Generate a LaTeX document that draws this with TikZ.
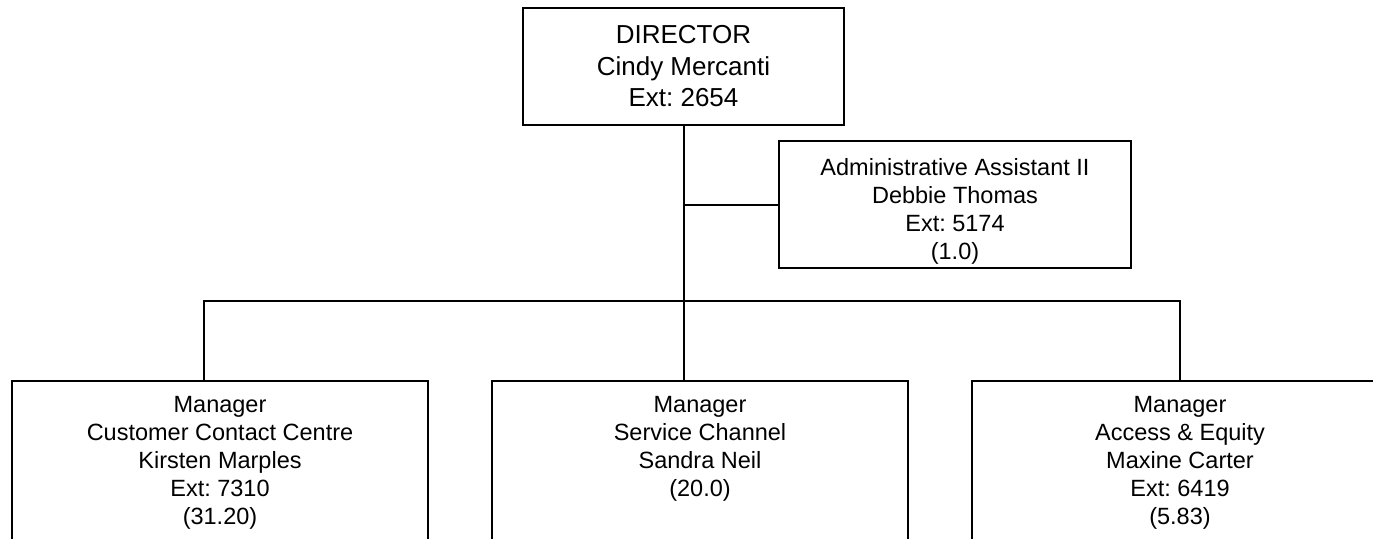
\documentclass[tikz,border=0pt]{standalone}
\usepackage{fontspec}
\setmainfont{Liberation Sans}
\usepackage{tikz}
\frenchspacing

\begin{document}
\begin{tikzpicture}[x=1pt,y=-1pt,line width=2pt,
    box/.style={draw,rectangle,align=center,inner sep=0pt,outer sep=0pt},
    dirbox/.style={box,minimum width=321pt,minimum height=117pt,
      font=\fontsize{26}{31.5}\selectfont},
    asstbox/.style={box,minimum width=352pt,minimum height=127pt,
      font=\fontsize{23.5}{28}\selectfont},
    mgrbox/.style={box,anchor=north,minimum width=416pt,minimum height=168pt,
      font=\fontsize{23.5}{28}\selectfont}]
      \useasboundingbox (0,0) rectangle (1373,538);
      \clip (0,0) rectangle (1373,538);
      % top of the chart
      \node[dirbox] (dir) at (683.5,66.5) {DIRECTOR\\Cindy Mercanti\\Ext: 2654};
      \node[asstbox] (asst) at (955,204.5)
      {\rule{0pt}{31pt}Administrative Assistant II\\Debbie Thomas\\Ext: 5174\\(1.0)};
      % managers
      \node[mgrbox] (ccc) at (220,381)
      {Manager\\Customer Contact Centre\\Kirsten Marples\\Ext: 7310\\(31.20)\strut};
      \node[mgrbox] (svc) at (700,381)
      {Manager\\Service Channel\\Sandra Neil\\(20.0)\\\strut};
      \node[mgrbox] (acc) at (1180,381)
      {Manager\\Access \& Equity\\Maxine Carter\\Ext: 6419\\(5.83)\strut};
      % lines
      \coordinate (busL) at (204,301);
      \coordinate (busR) at (1180,301);
      \draw (dir.south) -- (dir.south |- svc.north);
      \draw (dir.south |- asst.west) -- (asst.west);
      \draw (busL |- ccc.north) -- (busL) -- (busR) -- (busR |- acc.north);
    \end{tikzpicture}
\end{document}
